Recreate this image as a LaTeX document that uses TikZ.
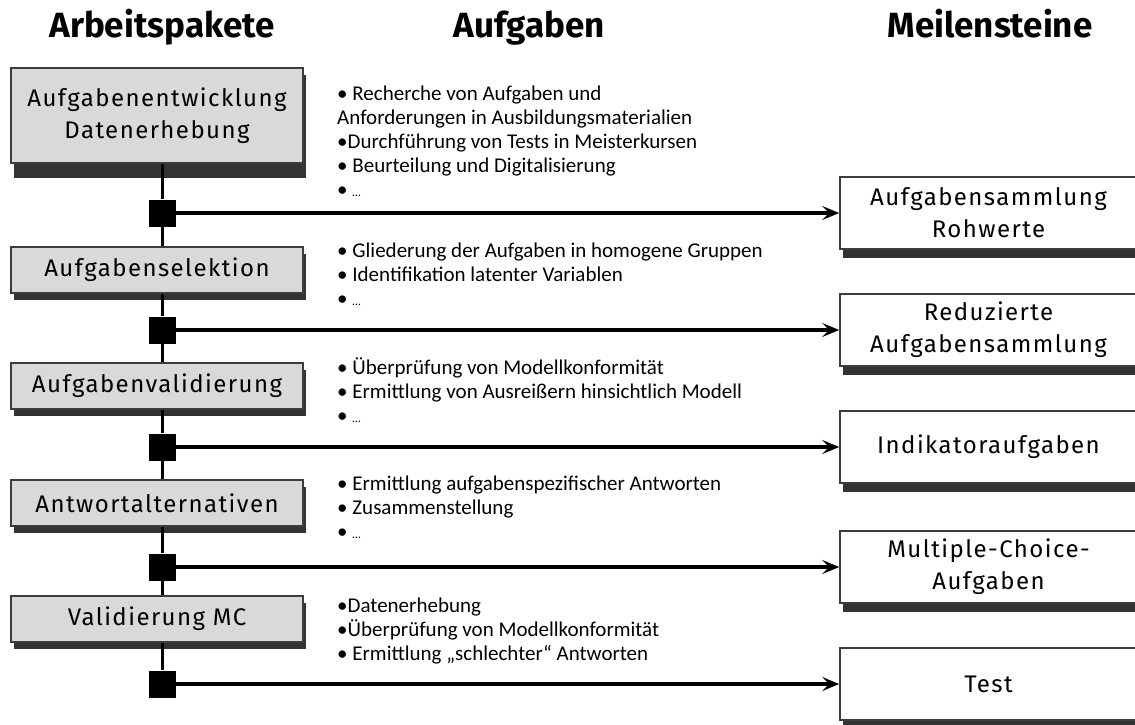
\documentclass[tikz,border=0pt]{standalone}
\usepackage{fontspec}
\setmainfont{Fira Sans}
\newfontfamily\boxfont[LetterSpace=6]{Fira Sans}
\newfontfamily\listfont{Carlito}
\usetikzlibrary{arrows.meta,positioning,shadows}
\definecolor{boxgray}{HTML}{D9D9D9}
\definecolor{rimgray}{HTML}{3C3C3C}
\definecolor{shadegray}{HTML}{333333}

\tikzset{
  kopf/.style={anchor=base, font=\bfseries\fontsize{35}{35}\selectfont},
  paket/.style={draw=rimgray, line width=1.6pt, fill=boxgray, minimum width=292,
    minimum height=46, align=center, inner sep=0pt, font=\boxfont\fontsize{24}{32}\selectfont,
    drop shadow={shadow xshift=3pt, shadow yshift=-7pt, fill=shadegray, opacity=1}},
  stein/.style={draw=rimgray, line width=1.6pt, fill=white, minimum width=297,
    minimum height=72, align=center, inner sep=0pt, font=\boxfont\fontsize{24}{32}\selectfont,
    drop shadow={shadow xshift=3pt, shadow yshift=-9pt, fill=shadegray, opacity=1}},
  liste/.style={anchor=base west, align=left, inner sep=0pt,
    font=\listfont\fontsize{21}{24}\selectfont},
  marke/.style={fill=black, minimum size=27, inner sep=0pt},
  verb/.style={line width=3pt},
  pfeil/.style={line width=3.2pt, -{Stealth[length=17pt, width=14pt, inset=7pt]}}
}
\newcommand{\etc}{{\fontsize{12}{12}\selectfont …}}

\begin{document}
\begin{tikzpicture}[x=1pt,y=-1pt]
  \useasboundingbox (0,0) rectangle (1135,724);
  \clip (0,0) rectangle (1135,724);
  % Spaltenkoepfe
  \node[kopf] (hA) at (162,37) {Arbeitspakete};
  \node[kopf] (hB) at (529,37) {Aufgaben};
  \node[kopf] (hC) at (990,37) {Meilensteine};
  % Arbeitspakete
  \node[paket, minimum height=95,
    drop shadow={shadow xshift=3pt, shadow yshift=-15pt, fill=shadegray, opacity=1}]
    (p1) at (157,115.5) {Aufgabenentwicklung\\Datenerhebung};
  \node[paket] (p2) at (157,270) {Aufgabenselektion};
  \node[paket] (p3) at (157,386) {Aufgabenvalidierung};
  \node[paket] (p4) at (157,503) {Antwortalternativen};
  \node[paket] (p5) at (157,619) {Validierung MC};
  % Marken
  \node[marke] (m1) at (162,213) {};
  \node[marke] (m2) at (162,330) {};
  \node[marke] (m3) at (162,447) {};
  \node[marke] (m4) at (162,567) {};
  \node[marke] (m5) at (162,684) {};
  % Meilensteine
  \node[stein] (r1) at (988.5,213) {Aufgabensammlung\\Rohwerte};
  \node[stein] (r2) at (988.5,330) {Reduzierte\\Aufgabensammlung};
  \node[stein] (r3) at (988.5,447) {Indikatoraufgaben};
  \node[stein] (r4) at (988.5,567) {Multiple-Choice-\\Aufgaben};
  \node[stein] (r5) at (988.5,684) {Test};
  % Aufgaben (Anker: Grundlinie der letzten Zeile)
  \node[liste] (a1) at (337,196) {• Recherche von Aufgaben und\\Anforderungen in Ausbildungsmaterialien\\•Durchführung von Tests in Meisterkursen\\• Beurteilung und Digitalisierung\\• \etc};
  \node[liste] (a2) at (337,305) {• Gliederung der Aufgaben in homogene Gruppen\\• Identifikation latenter Variablen\\• \etc};
  \node[liste] (a3) at (337,422) {• Überprüfung von Modellkonformität\\• Ermittlung von Ausreißern hinsichtlich Modell\\• \etc};
  \node[liste] (a4) at (337,538) {• Ermittlung aufgabenspezifischer Antworten\\• Zusammenstellung\\• \etc};
  \node[liste] (a5) at (337,660) {•Datenerhebung\\•Überprüfung von Modellkonformität\\• Ermittlung „schlechter“ Antworten};
  % Zeitachse
  \draw[verb] (p1.south -| m1) -- (m1) -- (p2.north -| m1);
  \draw[verb] (p2.south -| m2) -- (m2) -- (p3.north -| m2);
  \draw[verb] (p3.south -| m3) -- (m3) -- (p4.north -| m3);
  \draw[verb] (p4.south -| m4) -- (m4) -- (p5.north -| m4);
  \draw[verb] (p5.south -| m5) -- (m5);
  \foreach \i in {1,...,5}
    \draw[pfeil] (m\i.east) -- (r\i.west);
\end{tikzpicture}
\end{document}
